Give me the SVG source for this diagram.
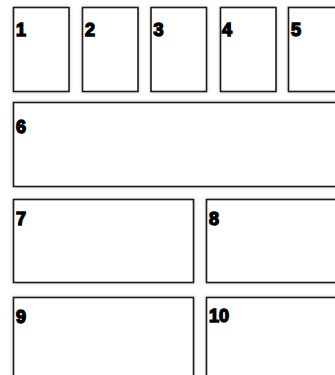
<svg xmlns="http://www.w3.org/2000/svg" width="335" height="375" viewBox="0 0 335 375">
<defs>
<filter id="sh" x="-10%" y="-10%" width="120%" height="120%">
<feGaussianBlur in="SourceAlpha" stdDeviation="1.5" result="b"/>
<feComponentTransfer in="b" result="c"><feFuncA type="linear" slope="0.25"/></feComponentTransfer>
<feMerge><feMergeNode in="c"/><feMergeNode in="SourceGraphic"/></feMerge>
</filter>
</defs>
<style>
.box{fill:#ffffff;stroke:#1a1a1a;stroke-width:1.6;filter:url(#sh)}
.lbl{font-family:"Liberation Sans",Arial,sans-serif;font-weight:bold;font-size:18px;fill:#000;stroke:#000;stroke-width:1.4}
</style>
<rect width="335" height="375" fill="#ffffff"/>
<g id="node1"><rect class="box" x="13.5" y="7.5" width="55.5" height="84"/><text class="lbl" x="16" y="36">1</text></g>
<g id="node2"><rect class="box" x="82.5" y="7.5" width="55.5" height="84"/><text class="lbl" x="85" y="36">2</text></g>
<g id="node3"><rect class="box" x="151" y="7.5" width="55.5" height="84"/><text class="lbl" x="153.5" y="36">3</text></g>
<g id="node4"><rect class="box" x="220.5" y="7.5" width="55.5" height="84"/><text class="lbl" x="222" y="36">4</text></g>
<g id="node5"><rect class="box" x="288.5" y="7.5" width="60" height="84"/><text class="lbl" x="291" y="36">5</text></g>
<g id="node6"><rect class="box" x="13.5" y="102.5" width="335" height="84"/><text class="lbl" x="16" y="133">6</text></g>
<g id="node7"><rect class="box" x="13.5" y="199.5" width="180" height="83"/><text class="lbl" x="16" y="225">7</text></g>
<g id="node8"><rect class="box" x="206.5" y="199.5" width="140" height="83"/><text class="lbl" x="209" y="225">8</text></g>
<g id="node9"><rect class="box" x="13.5" y="297.5" width="180" height="100"/><text class="lbl" x="16" y="323">9</text></g>
<g id="node10"><rect class="box" x="206.5" y="297.5" width="140" height="100"/><text class="lbl" x="209" y="322">10</text></g>
<g id="connectors"></g>
</svg>
